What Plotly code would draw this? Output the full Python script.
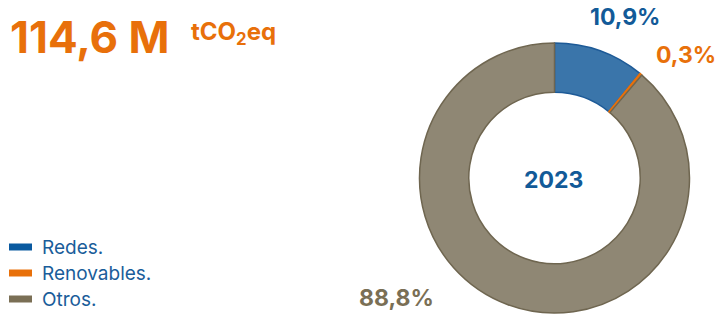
import plotly.graph_objects as go

# Data
categories = ["Redes.", "Renovables.", "Otros."]
shares = [10.9, 0.3, 88.8]
share_labels = ["10,9%", "0,3%", "88,8%"]
total_label = "114,6 M"
unit_label = "tCO<sub>2</sub>eq"
year_label = "2023"

# Styles
fill_colors = ["#3a75aa", "#e8700a", "#8f8774"]
line_colors = ["#1d5a97", "#e8700a", "#6f6650"]
legend_colors = ["#0a5aa0", "#e8700a", "#7a6f55"]
label_colors = ["#125a98", "#e8700a", "#7a6f55"]
FONT = "Inter"
W, H = 717, 315

fig = go.Figure()
fig.add_trace(go.Pie(
    labels=categories,
    values=shares,
    sort=False,
    direction="clockwise",
    rotation=0,
    hole=0.635,
    textinfo="none",
    showlegend=False,
    marker=dict(colors=fill_colors, line=dict(color=line_colors, width=1.5)),
    domain=dict(x=[419 / W, 690 / W], y=[1 - 313 / H, 1 - 43 / H]),
))

# percentage labels
label_pos = [(625, 17), (686, 55), (396, 298)]
annotations = []
for txt, col, (px, py) in zip(share_labels, label_colors, label_pos):
    annotations.append(dict(
        text=f"<b>{txt}</b>", x=px / W, y=1 - py / H, xref="paper", yref="paper",
        showarrow=False, xanchor="center", yanchor="middle",
        font=dict(family=FONT, size=23, color=col)))

# center year
annotations.append(dict(
    text=f"<b>{year_label}</b>", x=553 / W, y=1 - 180 / H, xref="paper", yref="paper",
    showarrow=False, xanchor="center", yanchor="middle",
    font=dict(family=FONT, size=23, color="#125a98")))

# title
annotations.append(dict(
    text=f"<b>{total_label}</b>", x=8 / W, y=1 - 37 / H, xref="paper", yref="paper",
    showarrow=False, xanchor="left", yanchor="middle",
    font=dict(family=FONT, size=44, color="#e8700a")))
annotations.append(dict(
    text=f"<b>{unit_label}</b>", x=189 / W, y=1 - 33 / H, xref="paper", yref="paper",
    showarrow=False, xanchor="left", yanchor="middle",
    font=dict(family=FONT, size=24, color="#e8700a")))

# custom legend
shapes = []
legend_y = [247, 273, 299]
for cat, col, ly in zip(categories, legend_colors, legend_y):
    shapes.append(dict(
        type="rect", xref="paper", yref="paper",
        x0=9 / W, x1=32 / W, y0=1 - (ly + 3.5) / H, y1=1 - (ly - 3.5) / H,
        fillcolor=col, line=dict(width=0)))
    annotations.append(dict(
        text=cat, x=40 / W, y=1 - ly / H, xref="paper", yref="paper",
        showarrow=False, xanchor="left", yanchor="middle",
        font=dict(family=FONT, size=19, color="#1a5d9a")))

fig.update_layout(
    width=W, height=H,
    margin=dict(l=0, r=0, t=0, b=0),
    paper_bgcolor="white", plot_bgcolor="white",
    annotations=annotations, shapes=shapes,
)

fig.write_html(
    "out.html",
    config={"displayModeBar": False},
    post_script="document.body.style.margin='0';document.body.style.overflow='hidden';",
)
